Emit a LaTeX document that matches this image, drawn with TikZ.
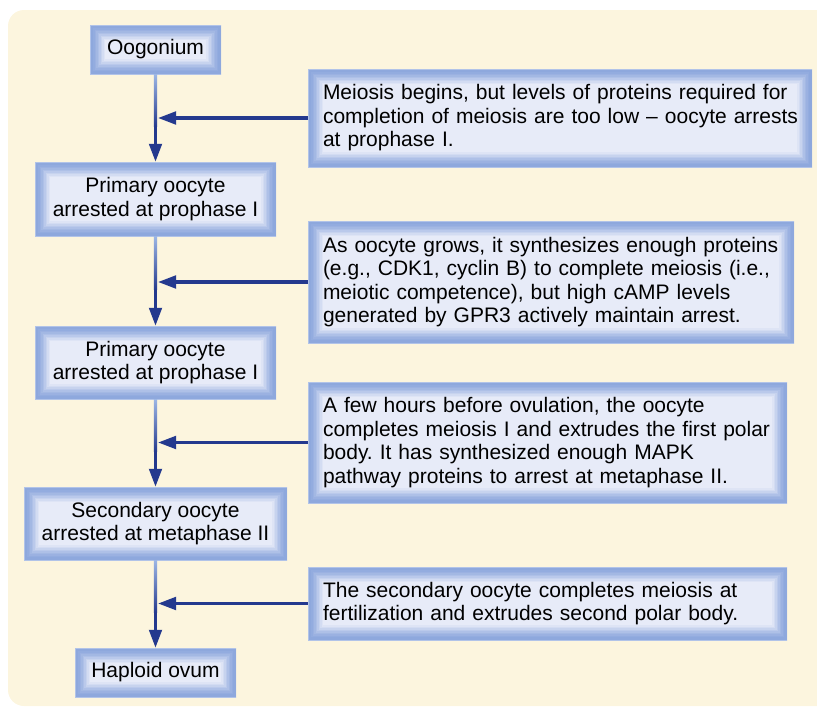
\documentclass[tikz,border=0pt]{standalone}
\usepackage{fontspec}
\setmainfont{Liberation Sans}
\usetikzlibrary{arrows.meta,calc}
\frenchspacing

\definecolor{cream}{HTML}{FCF5DE}
\definecolor{boxedge}{HTML}{8EA8DD}
\definecolor{boxfill}{HTML}{E7EBF8}
\definecolor{arrowdark}{HTML}{24398E}
\definecolor{arrowlight}{HTML}{9DB7E5}

\tikzset{
  cell/.style={fill=boxedge, inner sep=0pt, align=center,
    font=\fontsize{21}{23.5}\selectfont,
    path picture={
      \foreach \dd/\pp in {3/6,4.5/14,6/24,7.5/36,9/50,10.5/64,12/78,13.5/90,15/100}
        \fill[boxfill!\pp!boxedge] ([shift={(\dd pt,\dd pt)}]path picture bounding box.south west)
          rectangle ([shift={(-\dd pt,-\dd pt)}]path picture bounding box.north east);
      \draw[boxfill!40!boxedge, line width=1pt] (path picture bounding box.south west) rectangle (path picture bounding box.north east);}},
  note/.style={cell, align=left, inner xsep=15pt},
  flow/.style={->, arrowdark, line width=3.3pt}
}

\begin{document}
\begin{tikzpicture}[x=1pt,y=-1pt,>={Triangle[length=18pt,width=12.5pt]}]

\useasboundingbox (0,0) rectangle (817,707);
\fill[cream, rounded corners=16pt] (8,10) rectangle (860,706);

% stages
\path
(155.5,49.5)  node[cell, minimum width=131, minimum height=49] (oog) {Oogonium}
(155.5,199)   node[cell, minimum width=241, minimum height=74] (prim1) {Primary oocyte\\arrested at prophase I}
(155.5,362.5) node[cell, minimum width=241, minimum height=73] (prim2) {Primary oocyte\\arrested at prophase I}
(155.5,523.5) node[cell, minimum width=263, minimum height=73] (sec) {Secondary oocyte\\arrested at metaphase II}
(155.5,672.5) node[cell, minimum width=161, minimum height=49] (ovum) {Haploid ovum}
;

% notes
\path
(560,118)     node[note, inner xsep=12pt, text width=480, minimum height=98] (n1) {\hspace*{3pt}Meiosis begins, but levels of proteins required for\\\hspace*{3pt}completion of meiosis are too low -- oocyte arrests\\\hspace*{3pt}at prophase I.}
(551,282)     node[note, text width=456, minimum height=122] (n2) {As oocyte grows, it synthesizes enough proteins\\(e.g., CDK1, cyclin B) to complete meiosis (i.e.,\\meiotic competence), but high cAMP levels\\generated by GPR3 actively maintain arrest.}
(547.5,442.5) node[note, text width=449, minimum height=121] (n3) {A few hours before ovulation, the oocyte\\completes meiosis I and extrudes the first polar\\body. It has synthesized enough MAPK\\pathway proteins to arrest at metaphase II.}
(547.5,603.5) node[note, text width=449, minimum height=73] (n4) {The secondary oocyte completes meiosis at\\fertilization and extrudes second polar body.}
;

\coordinate (j1) at (oog.south |- n1.west);
\coordinate (j2) at (oog.south |- n2.west);
\coordinate (j3) at (oog.south |- n3.west);
\coordinate (j4) at (oog.south |- n4.west);

% main line
\draw[flow] (oog.south) -- (prim1.north);
\draw[flow] (prim1.south) -- (prim2.north);
\draw[flow] (prim2.south) -- (sec.north);
\draw[flow] (sec.south) -- (ovum.north);
\shade[top color=arrowlight, bottom color=arrowdark] ([xshift=-1.65pt]oog.south) rectangle ($(oog.south)!0.6!(prim1.north)+(1.65,0)$);
\shade[top color=arrowlight, bottom color=arrowdark] ([xshift=-1.65pt]prim1.south) rectangle ($(prim1.south)!0.6!(prim2.north)+(1.65,0)$);
\shade[top color=arrowlight, bottom color=arrowdark] ([xshift=-1.65pt]prim2.south) rectangle ($(prim2.south)!0.6!(sec.north)+(1.65,0)$);
\shade[top color=arrowlight, bottom color=arrowdark] ([xshift=-1.65pt]sec.south) rectangle ($(sec.south)!0.6!(ovum.north)+(1.65,0)$);

% side arrows
\draw[flow] (n1.west) -- ([xshift=2.5pt]j1);
\draw[flow] (n2.west) -- ([xshift=2.5pt]j2);
\draw[flow] (n3.west) -- ([xshift=2.5pt]j3);
\draw[flow] (n4.west) -- ([xshift=2.5pt]j4);
\shade[left color=arrowdark, right color=arrowlight] ($(n1.west)!0.65!(j1)+(0,-1.65)$) rectangle ([yshift=1.65pt]n1.west);
\shade[left color=arrowdark, right color=arrowlight] ($(n2.west)!0.65!(j2)+(0,-1.65)$) rectangle ([yshift=1.65pt]n2.west);
\shade[left color=arrowdark, right color=arrowlight] ($(n3.west)!0.65!(j3)+(0,-1.65)$) rectangle ([yshift=1.65pt]n3.west);
\shade[left color=arrowdark, right color=arrowlight] ($(n4.west)!0.65!(j4)+(0,-1.65)$) rectangle ([yshift=1.65pt]n4.west);

\end{tikzpicture}
\end{document}
